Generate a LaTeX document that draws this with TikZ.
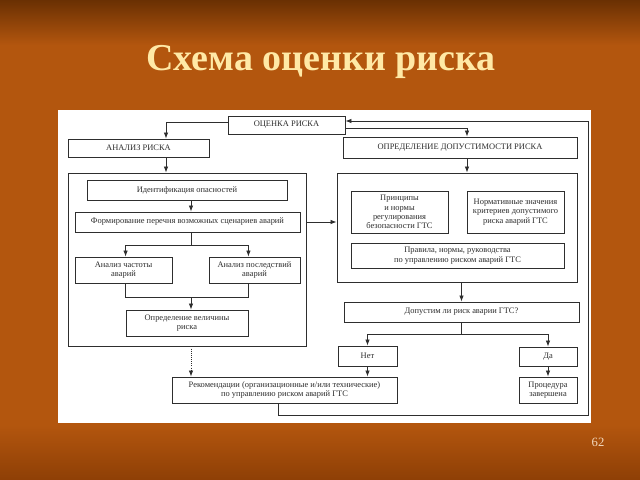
\documentclass[tikz,border=0pt]{standalone}
\usepackage{fontspec}
\setmainfont{Liberation Serif}
\usepackage{tikz}
\usetikzlibrary{arrows.meta,positioning,calc}
\definecolor{ink}{HTML}{2E2E2E}
\definecolor{rust}{HTML}{B3560E}
\definecolor{rustdark}{HTML}{6A3003}
\definecolor{rustlow}{HTML}{8E3F06}
\definecolor{cream}{HTML}{FFE9A6}
\definecolor{pagenum}{HTML}{F3D9BE}
\tikzset{
  >={Latex[length=1.5mm,width=1.1mm]},
  every node/.style={font=\fontsize{6}{6.7}\selectfont,text=ink},
  blk/.style={draw=ink,line width=0.6pt,fill=white,align=center,inner sep=1pt},
  frm/.style={blk},
  link/.style={draw=ink,line width=0.5pt},
  arrow/.style={link,->},
  dotarrow/.style={arrow,densely dotted},
  heading/.style={font=\fontsize{27}{30}\selectfont\bfseries,text=cream},
  pageno/.style={font=\fontsize{9}{10}\selectfont,text=pagenum}
}

\begin{document}
\begin{tikzpicture}[x=0.025cm,y=-0.025cm]
  \fill[rust] (0,0) rectangle (640,480);
  \shade[top color=rustdark,bottom color=rust] (0,0) rectangle (640,45);
  \shade[top color=rust,bottom color=rustlow] (0,425) rectangle (640,480);
  \useasboundingbox (0,0) rectangle (640,480);
  \fill[white] (58,110) rectangle (591,423);

  \node[heading] (title) at (321,62) {Схема оценки риска};
  \node[pageno] (num) at (598,442) {62};

  \node[blk,minimum width=29.25mm,minimum height=4.5mm] (assess) at (286.5,125) {ОЦЕНКА РИСКА};
  \node[blk,minimum width=35.25mm,minimum height=4.5mm] (analysis) at (138.5,148) {АНАЛИЗ РИСКА};
  \node[blk,minimum width=58.5mm,minimum height=5.25mm] (accept) at (460,147.5) {ОПРЕДЕЛЕНИЕ ДОПУСТИМОСТИ РИСКА};

  \node[frm,minimum width=59.5mm,minimum height=43.25mm] (anframe) at (187,259.5) {};
  \node[blk,minimum width=50mm,minimum height=5mm] (hazards) at (187,190) {Идентификация опасностей};
  \node[blk,minimum width=56.25mm,minimum height=5mm] (scenarios) at (187.5,222) {Формирование перечня возможных сценариев аварий};
  \node[blk,minimum width=24.25mm,minimum height=6.5mm] (freq) at (123.5,270) {Анализ частоты\\аварий};
  \node[blk,minimum width=22.75mm,minimum height=6.5mm] (conseq) at (254.5,270) {Анализ последствий\\аварий};
  \node[blk,minimum width=30.5mm,minimum height=6.5mm] (magnitude) at (187,323) {Определение величины\\риска};

  \node[frm,minimum width=60mm,minimum height=27.25mm] (acframe) at (457,227.5) {};
  \node[blk,minimum width=24.25mm,minimum height=10.5mm] (principles) at (399.5,212) {Принципы\\и нормы\\регулирования\\безопасности ГТС};
  \node[blk,minimum width=24.25mm,minimum height=10.5mm] (criteria) at (515.5,212) {Нормативные значения\\критериев допустимого\\риска аварий ГТС};
  \node[blk,minimum width=53.25mm,minimum height=6.25mm] (rules) at (457.5,255.5) {Правила, нормы, руководства\\по управлению риском аварий ГТС};

  \node[blk,minimum width=58.75mm,minimum height=5mm] (tolerable) at (461.5,312) {Допустим ли риск аварии ГТС?};
  \node[blk,minimum width=14.75mm,minimum height=5mm] (no) at (367.5,356) {Нет};
  \node[blk,minimum width=14.5mm,minimum height=4.75mm] (yes) at (548,356.5) {Да};
  \node[blk,minimum width=14.5mm,minimum height=6.5mm] (done) at (548,390) {Процедура\\завершена};
  \node[blk,minimum width=56.25mm,minimum height=6.5mm] (advice) at (284.5,390) {Рекомендации (организационные и/или технические)\\по управлению риском аварий ГТС};

  \coordinate (colA) at (166,0);
  \coordinate (colB) at (191,0);
  \coordinate (colC) at (467,0);
  \coordinate (loop) at (588,415);

  \draw[arrow] ($(assess.west)+(0,-3)$) -| (analysis.north -| colA);
  \draw[arrow] (analysis.south -| colA) -- (anframe.north -| colA);
  \draw[arrow] ($(assess.east)+(0,3)$) -| (accept.north -| colC);
  \draw[arrow] (accept.south -| colC) -- (acframe.north -| colC);
  \draw[arrow] (hazards.south -| colB) -- (scenarios.north -| colB);
  \draw[link] (scenarios.south -| colB) -- ++(0,13) coordinate (fork);
  \draw[arrow] (fork) -| (freq.north -| magnitude.west);
  \draw[arrow] (fork) -| (conseq.north -| magnitude.east);
  \draw[link] (freq.south -| magnitude.west) -- ++(0,14) coordinate (join) -| (conseq.south -| magnitude.east);
  \draw[arrow] (join -| colB) -- (magnitude.north -| colB);
  \draw[arrow] (anframe.east |- scenarios) -- (acframe.west |- scenarios);
  \draw[dotarrow] (anframe.south -| colB) -- (advice.north -| colB);
  \draw[arrow] (acframe.south -| tolerable) -- (tolerable.north);
  \draw[link] (tolerable.south) -- ++(0,12) coordinate (forkB);
  \draw[arrow] (forkB) -| (no.north);
  \draw[arrow] (forkB) -| (yes.north);
  \draw[arrow] (no.south) -- (no.south |- advice.north);
  \draw[arrow] (yes) -- (done);
  \draw[arrow] ($(advice.south)+(-6,0)$) |- (loop) |- ($(assess.east)+(0,-4)$);
\end{tikzpicture}
\end{document}
